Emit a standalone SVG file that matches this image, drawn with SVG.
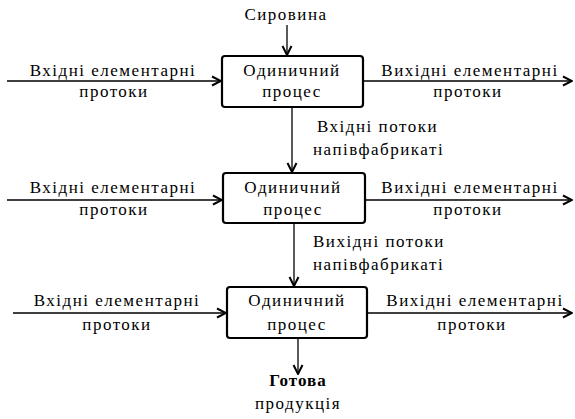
<svg xmlns="http://www.w3.org/2000/svg" width="575" height="419" viewBox="0 0 575 419">
<style>
text{font-family:'Liberation Serif','Times New Roman',serif;font-size:17px;fill:#000;letter-spacing:1.5px}
.c{text-anchor:middle}
.b{font-weight:bold;letter-spacing:1px}
.box{fill:#fff;stroke:#000;stroke-width:2.2}
.ln{stroke:#000;stroke-width:1.3;fill:none;marker-end:url(#ar)}
</style>
<defs>
<marker id="ar" viewBox="0 0 12 12" refX="11" refY="6" markerWidth="12" markerHeight="12" markerUnits="userSpaceOnUse" orient="auto">
<polyline points="2,1.5 11,6 2,10.5" fill="none" stroke="#000" stroke-width="2"/>
</marker>
</defs>
<rect width="575" height="419" fill="#fff"/>
<g id="connectors">
<line class="ln" x1="287" y1="25" x2="287" y2="55"/>
<line class="ln" x1="7" y1="81" x2="221" y2="81"/>
<line class="ln" x1="363" y1="81" x2="572" y2="81"/>
<line class="ln" x1="292" y1="107" x2="292" y2="172"/>
<line class="ln" x1="7" y1="200" x2="222" y2="200"/>
<line class="ln" x1="365" y1="200" x2="572" y2="200"/>
<line class="ln" x1="294" y1="223" x2="294" y2="286"/>
<line class="ln" x1="13" y1="313" x2="226" y2="313"/>
<line class="ln" x1="367" y1="313" x2="572" y2="313"/>
<line class="ln" x1="298" y1="338" x2="298" y2="374"/>
</g>
<g id="labels">
<text class="c" x="286" y="20">Сировина</text>
<text class="c" x="113" y="76">Вхідні елементарні</text>
<text class="c" x="114" y="97">протоки</text>
<text class="c" x="470" y="76">Вихідні елементарні</text>
<text class="c" x="468" y="97">протоки</text>
<text x="317" y="132">Вхідні потоки</text>
<text x="313" y="155">напівфабрикаті</text>
<text class="c" x="113" y="193">Вхідні елементарні</text>
<text class="c" x="114" y="215">протоки</text>
<text class="c" x="470" y="193">Вихідні елементарні</text>
<text class="c" x="468" y="215">протоки</text>
<text x="313" y="247">Вихідні потоки</text>
<text x="313" y="270">напівфабрикаті</text>
<text class="c" x="117" y="306">Вхідні елементарні</text>
<text class="c" x="117" y="330">протоки</text>
<text class="c" x="475" y="306">Вихідні елементарні</text>
<text class="c" x="472" y="330">протоки</text>
<text class="c b" x="298" y="386">Готова</text>
<text class="c" x="298" y="409">продукція</text>
</g>
<g id="process1">
<rect class="box" x="222" y="56" width="141" height="51" rx="3"/>
<text class="c" x="292" y="76">Одиничний</text>
<text class="c" x="292" y="97">процес</text>
</g>
<g id="process2">
<rect class="box" x="223" y="173" width="142" height="50" rx="3"/>
<text class="c" x="293" y="193">Одиничний</text>
<text class="c" x="293" y="215">процес</text>
</g>
<g id="process3">
<rect class="box" x="227" y="287" width="140" height="51" rx="3"/>
<text class="c" x="297" y="306">Одиничний</text>
<text class="c" x="297" y="330">процес</text>
</g>
</svg>
